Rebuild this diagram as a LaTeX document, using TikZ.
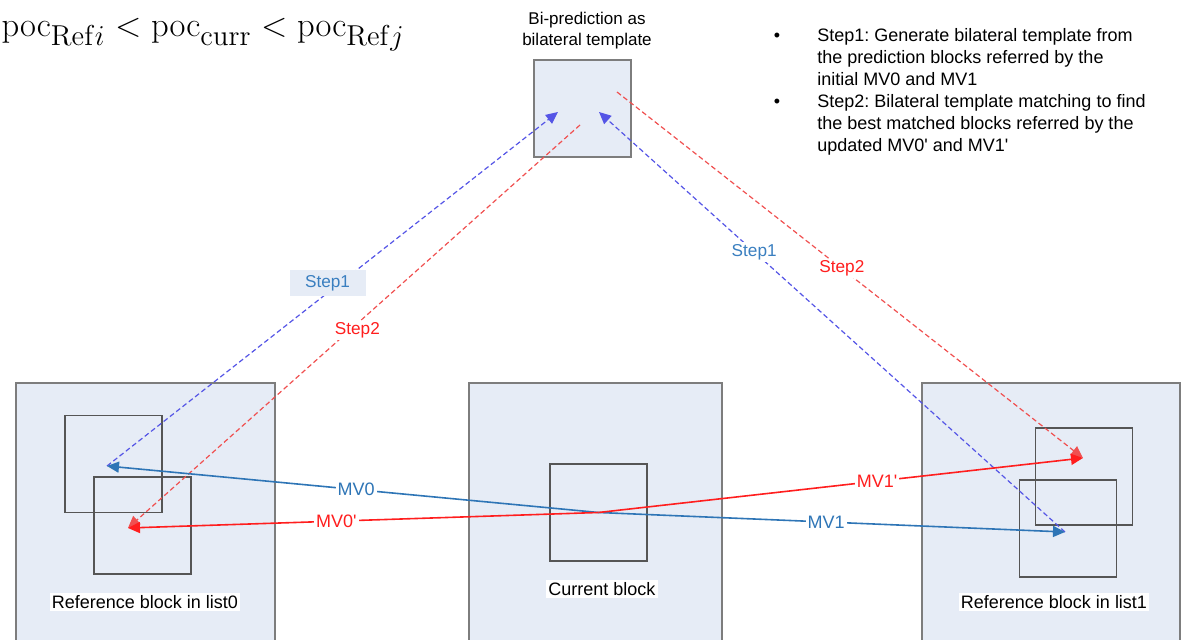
\documentclass[tikz,border=0pt]{standalone}
\usepackage[no-math]{fontspec}
\setmainfont{Liberation Sans}
\usetikzlibrary{arrows.meta}
\definecolor{boxfill}{RGB}{230,236,246}
\definecolor{boxline}{RGB}{125,125,125}
\definecolor{innerline}{RGB}{85,85,85}
\definecolor{mvblue}{RGB}{46,117,182}
\definecolor{dashblue}{RGB}{85,85,230}
\definecolor{mvred}{RGB}{255,30,30}
\definecolor{dashred}{RGB}{240,80,80}
\definecolor{stepblue}{RGB}{58,127,192}
\frenchspacing
\begin{document}
\begin{tikzpicture}[x=0.5pt,y=-0.5pt,
  bigbox/.style={draw=boxline, line width=0.9pt, fill=boxfill, inner sep=0pt},
  blk/.style={draw=innerline, line width=0.9pt, inner sep=0pt, minimum width=48.5pt, minimum height=48.5pt},
  txt/.style={inner sep=0pt, font=\fontsize{9}{11}\selectfont},
  lbl/.style={fill=white, inner sep=1pt, font=\fontsize{9}{11}\selectfont},
  steplbl/.style={fill=white, inner sep=1pt, font=\fontsize{8.6}{10}\selectfont},
  mvline/.style={line width=0.8pt, -{Triangle[length=6pt,width=5.5pt]}},
  dline/.style={line width=0.6pt, dash pattern=on 2.5pt off 1.5pt, -{Triangle[length=6pt,width=5.5pt]}}
]
\useasboundingbox (0,0) rectangle (1185,640);
\clip (0,0) rectangle (1185,640);

% formula (cut off at the left edge)
\node[inner sep=0pt, anchor=base east, font=\fontsize{19}{23}\selectfont] (formula) at (405,37)
  {$\mathrm{poc}_{\mathrm{Ref}i} < \mathrm{poc}_{\mathrm{curr}} < \mathrm{poc}_{\mathrm{Ref}j}$};

% template
\node[txt, align=center, font=\fontsize{8.5}{10.5}\selectfont] (ttitle) at (587,31) {Bi-prediction as\\bilateral template};
\node[bigbox, minimum width=48.5pt, minimum height=48.5pt] (tmpl) at (582.5,108.5) {};

% bullet list
\node[txt] (b1) at (777,37) {\textbullet};
\node[txt] (b2) at (777,103) {\textbullet};
\node[txt, anchor=north west, align=left] (s1) at (817,28) {Step1: Generate bilateral template from\\the prediction blocks referred by the\\initial MV0 and MV1};
\node[txt, anchor=north west, align=left] (s2) at (817,94) {Step2: Bilateral template matching to find\\the best matched blocks referred by the\\updated MV0\textquotesingle{} and MV1\textquotesingle};

% big boxes
\node[bigbox, minimum width=129.5pt, minimum height=158.5pt] (ref0) at (145.5,541.5) {};
\node[bigbox, minimum width=126.5pt, minimum height=158.5pt] (cur) at (595.5,541.5) {};
\node[bigbox, minimum width=129pt, minimum height=158.5pt] (ref1) at (1051,541.5) {};

% inner blocks
\node[blk] (blkA) at (113.5,464) {};
\node[blk] (blkB) at (142.5,525.5) {};
\node[blk] (curblk) at (598.5,512.5) {};
\node[blk] (blkC) at (1084,476.5) {};
\node[blk] (blkD) at (1068,528.5) {};

% block labels
\node[lbl] (l0) at (145,602) {Reference block in list0};
\node[lbl] (lc) at (602,589) {Current block};
\node[lbl] (l1) at (1054,602) {Reference block in list1};

% end points
\coordinate (mv0e) at (107,466);
\coordinate (mv0pe) at (128,528);
\coordinate (mv1e) at (1065,532);
\coordinate (mv1pe) at (1083,458);
\coordinate (t1) at (558,112);
\coordinate (t2) at (599,112);
\coordinate (r0s) at (580,125);
\coordinate (r1s) at (617,92);

% dashed step arrows
\draw[dline, dashblue] (mv0e) -- (t1)
  node[pos=0.5, xshift=-2.5pt, yshift=3pt, fill=boxfill, inner sep=0pt, minimum width=38pt, minimum height=13pt, text=stepblue, font=\fontsize{8.6}{10}\selectfont] (st1l) {Step1};
\draw[dline, dashred] (r0s) -- (mv0pe)
  node[steplbl, pos=0.5, xshift=1.7pt, yshift=-2pt, text=mvred] (st2l) {Step2};
\draw[dline, dashblue] (mv1e) -- (t2)
  node[steplbl, pos=0.667, text=stepblue] (st1r) {Step1};
\draw[dline, dashred] (r1s) -- (mv1pe)
  node[steplbl, pos=0.4825, text=mvred] (st2r) {Step2};

% motion vectors
\draw[mvline, mvblue] (curblk.center) -- (mv0e) node[lbl, pos=0.493, text=mvblue] (mv0) {MV0};
\draw[mvline, mvred] (curblk.center) -- (mv0pe) node[lbl, pos=0.557, text=mvred] (mv0p) {MV0\textquotesingle};
\draw[mvline, mvblue] (curblk.center) -- (mv1e) node[lbl, pos=0.488, text=mvblue] (mv1) {MV1};
\draw[mvline, mvred] (curblk.center) -- (mv1pe) node[lbl, pos=0.575, text=mvred] (mv1p) {MV1\textquotesingle};
\end{tikzpicture}
\end{document}
